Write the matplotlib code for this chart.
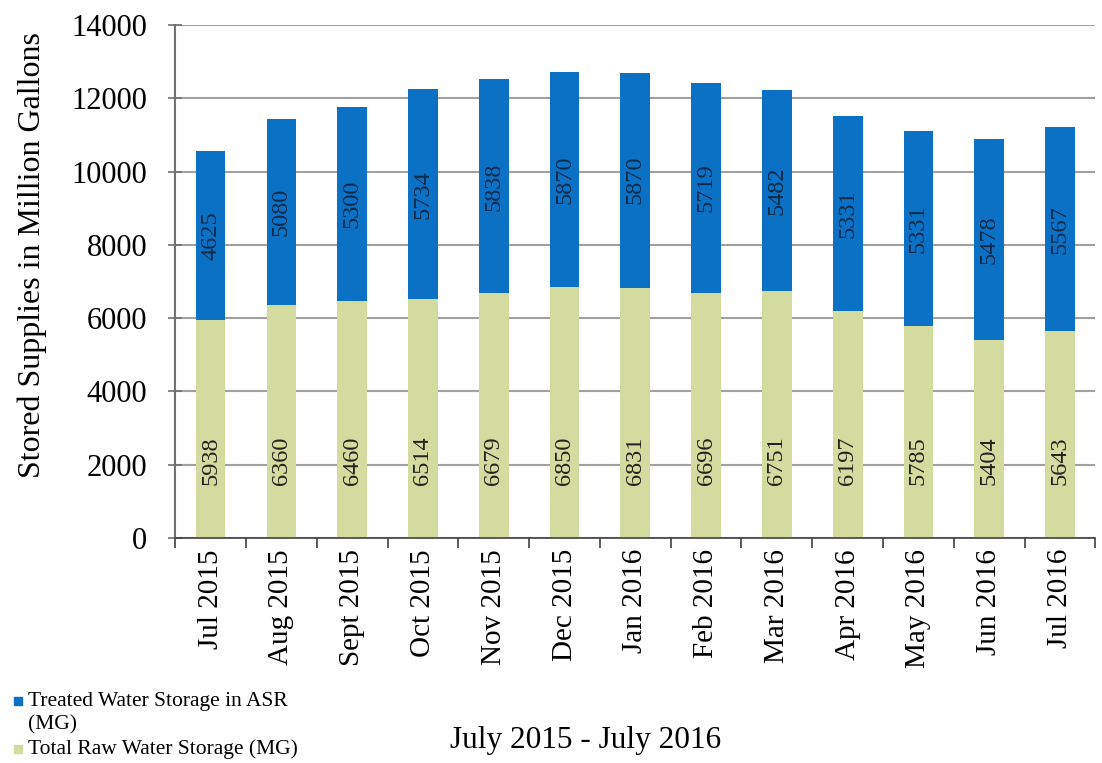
import matplotlib.pyplot as plt
import matplotlib.patches as mpatches
import numpy as np

plt.rcParams['font.family'] = ['Liberation Serif', 'DejaVu Serif']

months = ["Jul 2015", "Aug 2015", "Sept 2015", "Oct 2015", "Nov 2015", "Dec 2015",
          "Jan 2016", "Feb 2016", "Mar 2016", "Apr 2016", "May 2016", "Jun 2016", "Jul 2016"]
raw_storage = [5938, 6360, 6460, 6514, 6679, 6850, 6831, 6696, 6751, 6197, 5785, 5404, 5643]
treated_asr = [4625, 5080, 5300, 5734, 5838, 5870, 5870, 5719, 5482, 5331, 5331, 5478, 5567]

BLUE = '#0b71c4'
GREEN = '#d3dc9e'
AXIS_GREY = '#707070'

fig = plt.figure(figsize=(11.02, 7.63), dpi=100)
ax = fig.add_axes([0.159, 0.295, 0.835, 0.672])

x = np.arange(len(months))
width = 0.42
ax.bar(x, raw_storage, width, color=GREEN, zorder=2)
ax.bar(x, treated_asr, width, bottom=raw_storage, color=BLUE, zorder=2)

# value labels inside each segment
for i in range(len(months)):
    ax.text(x[i], 2100, str(raw_storage[i]), rotation=90, ha='center', va='center',
            fontsize=17.5, color='#222222', zorder=3)
    ax.text(x[i], raw_storage[i] + treated_asr[i] / 2, str(treated_asr[i]), rotation=90,
            ha='center', va='center', fontsize=17.5, color='#0d2a4a', zorder=3)

ax.set_xlim(-0.5, len(months) - 0.5)
ax.set_ylim(0, 14000)
ax.set_yticks(np.arange(0, 14001, 2000))
ax.tick_params(axis='y', labelsize=22, length=10, width=1.2, direction='inout',
               pad=15, color=AXIS_GREY)
ax.set_xticks(x)
ax.set_xticklabels(months, rotation=90, fontsize=21)
ax.tick_params(axis='x', length=0, pad=8)
ax.set_xticks(np.arange(-0.5, len(months), 1), minor=True)
ax.tick_params(axis='x', which='minor', length=7, width=1.2, direction='out', color='#404040')

ax.yaxis.grid(True, color='#a0a0a0', linewidth=1.5, zorder=0)
ax.set_axisbelow(True)
for side in ['top', 'right']:
    ax.spines[side].set_visible(False)
ax.spines['left'].set_linewidth(1.5)
ax.spines['left'].set_color(AXIS_GREY)
ax.spines['bottom'].set_linewidth(1.2)
ax.spines['bottom'].set_color('#404040')

ax.set_ylabel('Stored Supplies in Million Gallons', fontsize=23)
ax.yaxis.set_label_coords(-0.139, 0.552)

fig.text(0.531, 0.030, 'July 2015 - July 2016', ha='center', va='center', fontsize=22.5)

# legend at lower left
fig.patches.append(mpatches.Rectangle((0.013, 0.076), 0.007, 0.010, color=BLUE,
                                      transform=fig.transFigure, figure=fig))
fig.text(0.025, 0.081, 'Treated Water Storage in ASR', fontsize=15.5, va='center')
fig.text(0.025, 0.050, '(MG)', fontsize=15.5, va='center')
fig.patches.append(mpatches.Rectangle((0.013, 0.013), 0.007, 0.010, color=GREEN,
                                      transform=fig.transFigure, figure=fig))
fig.text(0.025, 0.018, 'Total Raw Water Storage (MG)', fontsize=15.5, va='center')

plt.savefig('out.png', dpi=100)
plt.close()
